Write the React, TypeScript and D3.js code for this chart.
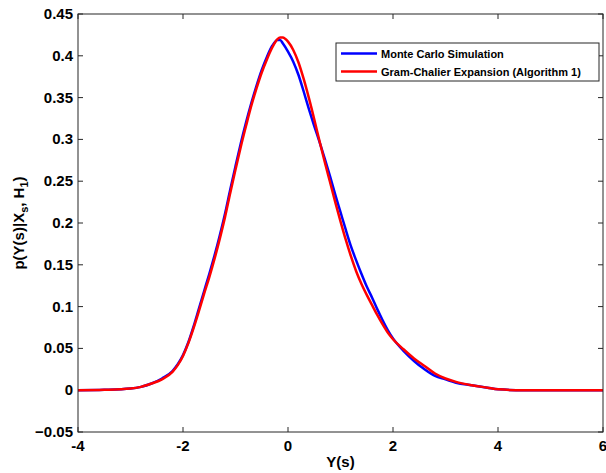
import React from "react";
import * as d3 from "d3";

const xValues = [-4, -3.5, -3, -2.8, -2.6, -2.4, -2.2, -2.1, -2.0, -1.9, -1.8, -1.7, -1.6, -1.5, -1.4, -1.3, -1.2, -1.1, -1.0, -0.9, -0.8, -0.7, -0.6, -0.5, -0.4, -0.3, -0.2, -0.15, -0.1, 0, 0.1, 0.2, 0.3, 0.4, 0.5, 0.6, 0.7, 0.8, 0.9, 1.0, 1.1, 1.2, 1.3, 1.4, 1.5, 1.6, 1.7, 1.8, 1.9, 2.0, 2.2, 2.4, 2.6, 2.8, 3.0, 3.2, 3.5, 3.8, 4.0, 4.5, 5, 5.5, 6];

const monteCarlo = [0, 0.0005, 0.002, 0.004, 0.008, 0.014, 0.023, 0.031, 0.042, 0.057, 0.076, 0.097, 0.118, 0.139, 0.161, 0.185, 0.211, 0.240, 0.268, 0.295, 0.320, 0.343, 0.364, 0.383, 0.399, 0.412, 0.419, 0.419, 0.415, 0.405, 0.393, 0.377, 0.357, 0.336, 0.316, 0.297, 0.277, 0.256, 0.234, 0.213, 0.192, 0.172, 0.155, 0.139, 0.124, 0.111, 0.097, 0.084, 0.072, 0.062, 0.047, 0.035, 0.025, 0.017, 0.013, 0.009, 0.006, 0.003, 0.001, 0, 0, 0, 0];

const gramCharlier = [0, 0.0005, 0.002, 0.004, 0.008, 0.013, 0.022, 0.030, 0.041, 0.056, 0.074, 0.094, 0.115, 0.135, 0.157, 0.181, 0.207, 0.236, 0.264, 0.291, 0.316, 0.340, 0.361, 0.380, 0.396, 0.410, 0.420, 0.422, 0.422, 0.417, 0.407, 0.392, 0.372, 0.349, 0.324, 0.298, 0.273, 0.249, 0.225, 0.202, 0.180, 0.160, 0.142, 0.127, 0.114, 0.102, 0.090, 0.079, 0.069, 0.061, 0.049, 0.038, 0.029, 0.020, 0.014, 0.010, 0.006, 0.003, 0.001, 0, 0, 0, 0];

const xTicks = [-4, -2, 0, 2, 4, 6];
const yTicks = [-0.05, 0, 0.05, 0.1, 0.15, 0.2, 0.25, 0.3, 0.35, 0.4, 0.45];
const seriesNames = ["Monte Carlo Simulation", "Gram-Chalier Expansion (Algorithm 1)"];
const seriesColors = ["#0000ff", "#ff0000"];

const W = 606;
const H = 473;
const left = 78;
const right = 603;
const top = 14;
const bottom = 432;
const font = "Arial, 'Liberation Sans', sans-serif";

export default function App() {
  const x = d3.scaleLinear().domain([-4, 6]).range([left, right]);
  const y = d3.scaleLinear().domain([-0.05, 0.45]).range([bottom, top]);
  const line = d3
    .line<number>()
    .x((_, i) => x(xValues[i]))
    .y((d) => y(d))
    .curve(d3.curveMonotoneX);
  const series = [monteCarlo, gramCharlier];
  const tickLen = 5;
  const axisColor = "#262626";
  const fmtY = (v: number) => {
    const s = d3.format(".2f")(v);
    return s.replace(/0+$/, "").replace(/\.$/, "");
  };

  return (
    <svg
      width={W}
      height={H}
      style={{ position: "absolute", left: 0, top: 0, background: "#fff" }}
    >
      <defs>
        <clipPath id="plotClip">
          <rect x={left} y={top} width={right - left} height={bottom - top} />
        </clipPath>
      </defs>
      <rect x={0} y={0} width={W} height={H} fill="#fff" />
      {xTicks.map((t) => (
        <g key={"xt" + t}>
          <line x1={x(t)} x2={x(t)} y1={bottom} y2={bottom - tickLen} stroke={axisColor} />
          <line x1={x(t)} x2={x(t)} y1={top} y2={top + tickLen} stroke={axisColor} />
          <text
            x={x(t)}
            y={bottom + 19}
            textAnchor="middle"
            fontFamily={font}
            fontWeight="bold"
            fontSize={15}
            fill="#000"
          >
            {t}
          </text>
        </g>
      ))}
      {yTicks.map((t) => (
        <g key={"yt" + t}>
          <line x1={left} x2={left + tickLen} y1={y(t)} y2={y(t)} stroke={axisColor} />
          <line x1={right} x2={right - tickLen} y1={y(t)} y2={y(t)} stroke={axisColor} />
          <text
            x={left - 5}
            y={y(t) + 5}
            textAnchor="end"
            fontFamily={font}
            fontWeight="bold"
            fontSize={15}
            fill="#000"
          >
            {fmtY(t)}
          </text>
        </g>
      ))}
      <g clipPath="url(#plotClip)">
        {series.map((s, i) => (
          <path
            key={i}
            d={line(s) || ""}
            fill="none"
            stroke={seriesColors[i]}
            strokeWidth={2.5}
            strokeLinejoin="round"
          />
        ))}
      </g>
      <rect
        x={left}
        y={top}
        width={right - left}
        height={bottom - top}
        fill="none"
        stroke={axisColor}
        strokeWidth={1}
      />
      <g>
        <rect x={336} y={43} width={263} height={38} fill="#fff" stroke={axisColor} strokeWidth={1} />
        {seriesNames.map((n, i) => (
          <g key={n}>
            <line
              x1={341}
              x2={377}
              y1={53.5 + i * 18}
              y2={53.5 + i * 18}
              stroke={seriesColors[i]}
              strokeWidth={2.5}
            />
            <text
              x={381}
              y={57.5 + i * 18}
              fontFamily={font}
              fontWeight="bold"
              fontSize={11}
              fill="#000"
            >
              {n}
            </text>
          </g>
        ))}
      </g>
      <text
        x={(left + right) / 2}
        y={467}
        textAnchor="middle"
        fontFamily={font}
        fontWeight="bold"
        fontSize={15}
        fill="#000"
      >
        Y(s)
      </text>
      <text
        transform={`translate(24, ${(top + bottom) / 2}) rotate(-90)`}
        textAnchor="middle"
        fontFamily={font}
        fontWeight="bold"
        fontSize={15}
        fill="#000"
      >
        p(Y(s)|X
        <tspan fontSize={11} dy={4}>s</tspan>
        <tspan dy={-4}>, H</tspan>
        <tspan fontSize={11} dy={4}>1</tspan>
        <tspan dy={-4}>)</tspan>
      </text>
    </svg>
  );
}
